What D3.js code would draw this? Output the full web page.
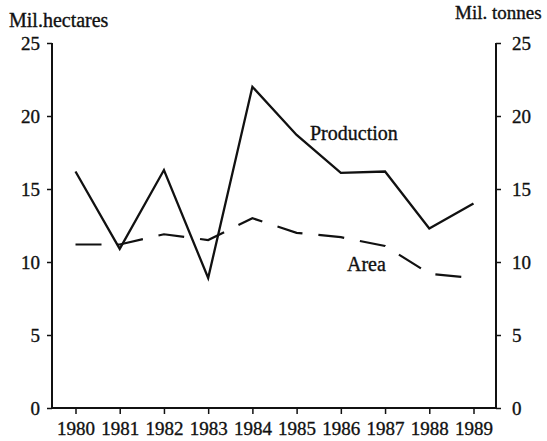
<!DOCTYPE html>
<html>
<head>
<meta charset="utf-8">
<script src="https://cdn.jsdelivr.net/npm/d3@7"></script>
<style>
  body { margin: 0; background: #fff; }
  svg text { font-family: "Liberation Serif", "Times New Roman", serif; fill: #111; stroke: #111; stroke-width: 0.35; }
</style>
</head>
<body>
<div id="chart"></div>
<script>
const years = [1980, 1981, 1982, 1983, 1984, 1985, 1986, 1987, 1988, 1989];
const production = [16.2, 10.9, 16.3, 8.9, 22.0, 18.7, 16.1, 16.2, 12.3, 14.0];
const area = [11.2, 11.2, 11.9, 11.5, 13.0, 12.0, 11.7, 11.1, 9.2, 8.9];
const yTicks = [0, 5, 10, 15, 20, 25];

const width = 547, height = 441;
const axisLeft = 52, axisRight = 496;

const svg = d3.select("#chart").append("svg")
    .attr("width", width)
    .attr("height", height);

const x = d3.scalePoint()
    .domain(years)
    .range([75.5, 473.5]);

const y = d3.scaleLinear()
    .domain([0, 25])
    .range([408, 43]);

// left axis (hectares)
const gLeft = svg.append("g")
    .attr("transform", "translate(" + axisLeft + ",0)")
    .call(d3.axisLeft(y).tickValues(yTicks).tickSize(5).tickPadding(7));

// right axis (tonnes)
const gRight = svg.append("g")
    .attr("transform", "translate(" + axisRight + ",0)")
    .call(d3.axisRight(y).tickValues(yTicks).tickSize(5).tickPadding(11));

[gLeft, gRight].forEach(g => {
    g.select(".domain").attr("d", "M0," + y(25) + "V" + y(0)).attr("stroke", "#111").attr("stroke-width", 2);
    g.selectAll(".tick line").attr("stroke", "#111").attr("stroke-width", 1.5);
    g.selectAll(".tick text").attr("font-size", 19).attr("font-family", "Liberation Serif");
});

// bottom axis
const gBottom = svg.append("g")
    .attr("transform", "translate(0," + y(0) + ")")
    .call(d3.axisBottom(x).tickSize(6).tickPadding(8));
gBottom.select(".domain").attr("d", "M" + axisLeft + ",0H" + axisRight).attr("stroke", "#111").attr("stroke-width", 2);
gBottom.selectAll(".tick line").attr("stroke", "#111").attr("stroke-width", 1.5);
gBottom.selectAll(".tick text").attr("font-size", 19).attr("font-family", "Liberation Serif");

// axis titles
svg.append("text").attr("x", 9).attr("y", 27).attr("font-size", 20).text("Mil.hectares");
svg.append("text").attr("x", 455).attr("y", 19).attr("font-size", 19).text("Mil. tonnes");

const line = d3.line()
    .x((d, i) => x(years[i]))
    .y(d => y(d));

svg.append("path")
    .datum(production)
    .attr("fill", "none")
    .attr("stroke", "#111")
    .attr("stroke-width", 2.3)
    .attr("stroke-linejoin", "miter")
    .attr("d", line);

svg.append("path")
    .datum(area)
    .attr("fill", "none")
    .attr("stroke", "#111")
    .attr("stroke-width", 2.2)
    .attr("stroke-dasharray", "26,16")
    .attr("d", line);

// series labels
svg.append("text").attr("x", 310).attr("y", 140).attr("font-size", 20).text("Production");
svg.append("text").attr("x", 347).attr("y", 271).attr("font-size", 20).text("Area");
</script>
</body>
</html>
